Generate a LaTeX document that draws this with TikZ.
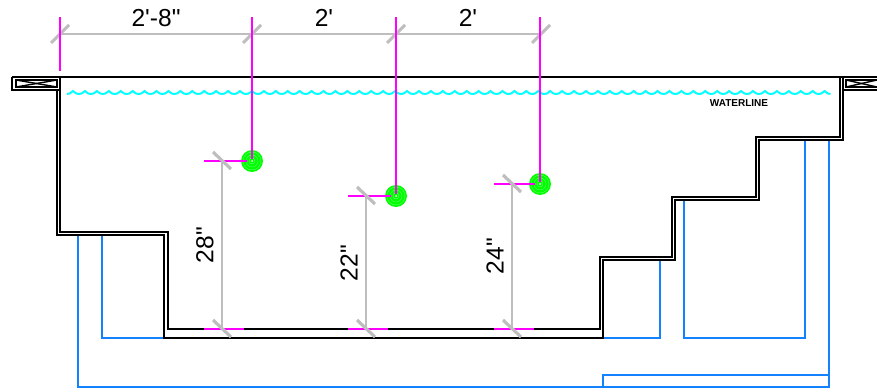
\documentclass[tikz,border=0pt]{standalone}
\usepackage{fontspec}
\setmainfont{Liberation Sans}[Ligatures=TeXOff]
\usepackage{tikz}
\definecolor{pipeblue}{RGB}{20,130,255}
\definecolor{dimgray}{RGB}{190,190,190}
\definecolor{refmagenta}{RGB}{255,0,255}
\definecolor{watercyan}{RGB}{0,255,255}
\definecolor{valvegreen}{RGB}{0,255,0}
\tikzset{
  wall/.style={black,line width=1.1pt},
  coping/.style={black,line width=0.8pt},
  pipe/.style={pipeblue,line width=0.8pt},
  dimline/.style={dimgray,line width=0.9pt},
  tick/.style={dimgray,line width=1.8pt},
  refline/.style={refmagenta,line width=1.1pt},
  water/.style={watercyan,line width=1.1pt},
  dimtext/.style={font=\fontsize{14}{16}\selectfont,inner sep=0pt}
}
\begin{document}
\begin{tikzpicture}[x=0.02cm,y=-0.02cm]
\useasboundingbox (0,0) rectangle (877,392);
% piping
\draw[pipe] (78,235) -- (78,387) -- (829,387) -- (829,140);
\draw[pipe] (603,387) -- (603,375) -- (829,375);
\draw[pipe] (102,235) -- (102,338) -- (164,338);
\draw[pipe] (603,338) -- (660,338) -- (660,260);
\draw[pipe] (684,200) -- (684,338) -- (805,338) -- (805,140);
% pool shell
\draw[wall] (60,77) -- (60,232) -- (168,232) -- (168,329) -- (600,329) -- (600,257) -- (672,257) -- (672,197) -- (756,197) -- (756,137) -- (840,137) -- (840,77);
\draw[wall] (57,90) -- (57,235) -- (164,235) -- (164,338) -- (603,338) -- (603,260) -- (675,260) -- (675,200) -- (759,200) -- (759,140) -- (843,140) -- (843,77);
\draw[wall] (12,77) -- (877,77);
% coping
\draw[wall] (12,77) -- (12,90) -- (60,90);
\draw[coping] (16,80) rectangle (57,87);
\draw[coping] (16,80) -- (57,87);
\draw[coping] (16,87) -- (57,80);
\draw[wall] (843,90) -- (877,90);
\draw[coping] (877,80) -- (846,80) -- (846,87) -- (877,87);
\draw[coping] (846,80) -- (877,87);
\draw[coping] (846,87) -- (877,80);
% waterline
\draw[water] (67,94)
\foreach \k in {0,...,63} {
  .. controls ({67+11.93*\k+4},94) and ({67+11.93*\k+5},91) .. ({67+11.93*\k+6},91)
  .. controls ({67+11.93*\k+7},91) and ({67+11.93*\k+8},94) .. ({67+11.93*\k+11.93},94)
};
\node[font=\bfseries\fontsize{5.7}{7}\selectfont,inner sep=0pt] (waterline) at (739,103) {WATERLINE};
% dimensions
\draw[dimline] (59,34) -- (541,34);
\foreach \x in {60,252,396,541} {
  \draw[tick] (\x-9,43) -- (\x+9,25);
}
\draw[refline] (60,17) -- (60,71);
\foreach \x/\y/\d in {252/161/222,396/196/366,540/184/512} {
  \fill[valvegreen] (\x,\y) circle (11);
  \foreach \r in {3,6,9} {
    \draw[valvegreen!55!white,line width=0.2pt] (\x,\y) circle (\r);
  }
  \fill[white] (\x,\y) circle (1);
  \draw[refline] (\x,17) -- (\x,\y-2);
  \draw[refline] (\d-18,\y) -- (\x-5,\y);
  \draw[refline] (\d-18,329) -- (\d+22,329);
  \draw[dimline] (\d,\y) -- (\d,329);
  \draw[tick] (\d-9,\y-9) -- (\d+9,\y+8);
  \draw[tick] (\d-9,320) -- (\d+9,337);
}
\node[dimtext] (top a) at (156,18) {2'-8"};
\node[dimtext] (top b) at (324,18) {2'};
\node[dimtext] (top c) at (468,18) {2'};
\node[dimtext,rotate=90] (side a) at (205,245) {28"};
\node[dimtext,rotate=90] (side b) at (349,263) {22"};
\node[dimtext,rotate=90] (side c) at (495,256) {24"};
\end{tikzpicture}
\end{document}
